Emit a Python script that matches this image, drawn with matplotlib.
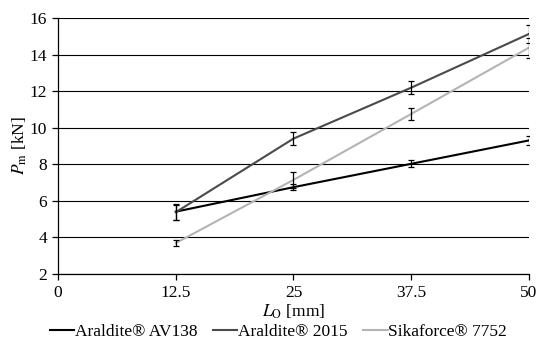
import numpy as np
import matplotlib
matplotlib.use('Agg')
import matplotlib.pyplot as plt

# overlap length [mm] and max load [kN]
L_o = [12.5, 25, 37.5, 50]
x_labels = ['0', '12.5', '25', '37.5', '50']

av138 = [5.41, 6.75, 8.03, 9.31]
av138_err = [0.43, 0.18, 0.2, 0.27]
a2015 = [5.38, 9.41, 12.2, 15.14]
a2015_err = [0.4, 0.35, 0.35, 0.48]
sika = [3.69, 7.15, 10.76, 14.39]
sika_err = [0.18, 0.45, 0.35, 0.55]

names = ['Araldite® AV138', 'Araldite® 2015', 'Sikaforce® 7752']
colors = ['#000000', '#4a4a4a', '#b4b4b4']

plt.rcParams['font.family'] = ['Liberation Serif', 'DejaVu Serif']
plt.rcParams['mathtext.fontset'] = 'stix'
plt.rcParams['font.size'] = 12.5

fig = plt.figure(figsize=(5.38, 3.39), dpi=100)
ax = fig.add_axes([0.108, 0.192, 0.875, 0.754])

for vals, errs, name, c in zip([av138, a2015, sika],
                               [av138_err, a2015_err, sika_err], names, colors):
    ax.plot(L_o, vals, color=c, lw=1.5, label=name, zorder=3)
    ax.errorbar(L_o, vals, yerr=errs, fmt='none', ecolor='black',
                elinewidth=0.9, capsize=2.5, capthick=0.9, zorder=4)

ax.set_xlim(0, 50)
ax.set_ylim(2, 16)
ax.set_xticks([0, 12.5, 25, 37.5, 50])
ax.set_xticklabels(x_labels)
ax.set_yticks(np.arange(2, 17, 2))
ax.yaxis.grid(True, color='black', lw=0.8)
ax.set_axisbelow(True)
for s in ['top', 'right']:
    ax.spines[s].set_visible(False)
ax.spines['left'].set_linewidth(0.9)
ax.spines['bottom'].set_linewidth(0.9)
ax.tick_params(direction='out', length=4, width=0.9, pad=4)

ax.set_xlabel(r'$L_\mathrm{O}$ [mm]', labelpad=1)
ax.set_ylabel(r'$P_\mathrm{m}$ [kN]', labelpad=0)

ax.legend(loc='upper center', bbox_to_anchor=(0.468, -0.16), ncol=3,
          frameon=False, handlelength=1.4, handletextpad=0.05,
          columnspacing=0.9, borderpad=0)

fig.savefig('out.png', dpi=100)
